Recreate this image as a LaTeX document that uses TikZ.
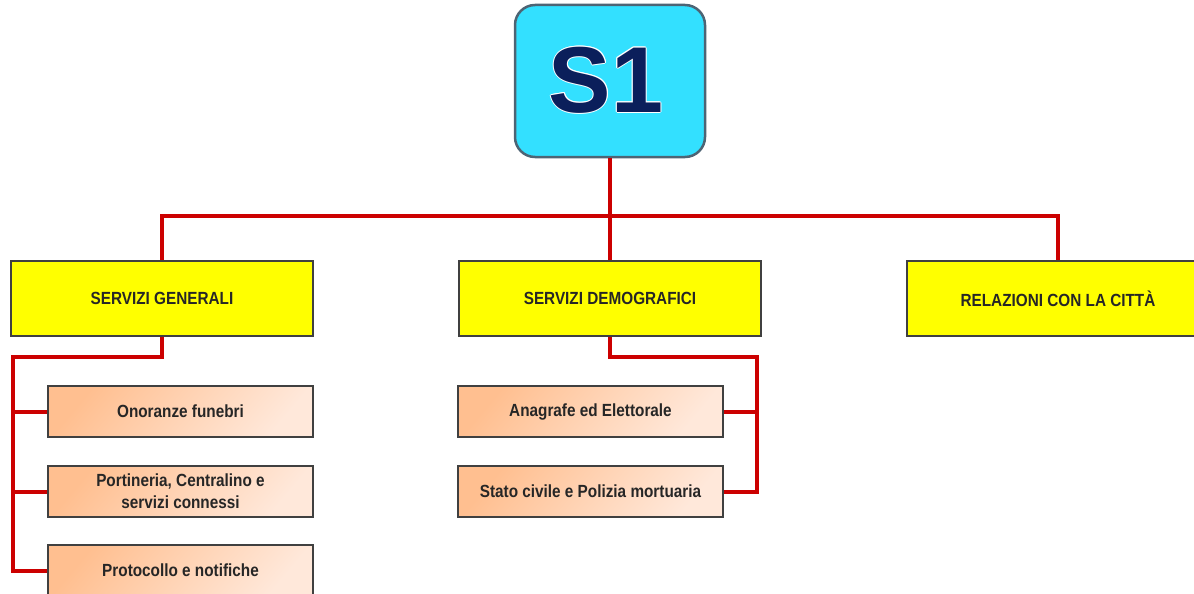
\documentclass[tikz,border=0pt]{standalone}
\usepackage{fontspec}
\newfontfamily\nf[FakeStretch=0.87]{Liberation Sans}
\newfontfamily\bigf{Liberation Sans}
\definecolor{linered}{HTML}{CC0000}
\definecolor{cyanfill}{HTML}{33E0FF}
\definecolor{cyanborder}{HTML}{4D6474}
\definecolor{navy}{HTML}{0B1F5B}
\definecolor{boxborder}{HTML}{404040}
\definecolor{txt}{HTML}{262626}
\definecolor{yfill}{HTML}{FFFF00}
\definecolor{orA}{HTML}{FFBF90}
\definecolor{orB}{HTML}{FFE8DA}
\tikzset{
  conn/.style={draw=linered, line width=4pt, line join=miter},
  ybox/.style={draw=boxborder, line width=1.5pt, fill=yfill, minimum width=302pt, minimum height=75pt, inner sep=0pt,
    font=\nf\fontsize{17.6}{21}\selectfont\bfseries, text=txt, align=center},
  obox/.style={draw=boxborder, line width=1.5pt, top color=orA, bottom color=orB, shading angle=50,
    minimum width=265pt, minimum height=51pt, inner sep=0pt,
    font=\nf\fontsize{17.6}{22}\selectfont\bfseries, text=txt, align=center},
  topbox/.style={draw=cyanborder, line width=2.5pt, fill=cyanfill, rounded corners=20pt,
    minimum width=190pt, minimum height=152pt, inner sep=0pt}
}
\begin{document}
\begin{tikzpicture}[x=1pt,y=-1pt]
\useasboundingbox (0,0) rectangle (1194,594);
\clip (0,0) rectangle (1194,594);
% top box
\node[topbox] (s1) at (610,81) {};
\foreach \dx/\dy in {0.9/0,-0.9/0,0/0.9,0/-0.9,0.65/0.65,-0.65/0.65,0.65/-0.65,-0.65/-0.65}
  \node[text=white, font=\bigf\fontsize{93.6}{100}\selectfont\bfseries, inner sep=0pt] at (606+\dx,80+\dy) {S1};
\node[text=navy, font=\bigf\fontsize{93.6}{100}\selectfont\bfseries, inner sep=0pt] (s1t) at (606,80) {S1};
% level 1
\node[ybox] (gen) at (162,298.5) {SERVIZI GENERALI};
\node[ybox] (dem) at (610,298.5) {SERVIZI DEMOGRAFICI};
\node[ybox] (rel) at (1058,298.5) {RELAZIONI CON LA CITT\`A};
% level 2 left
\node[obox] (onor) at (180.5,411.5) {Onoranze funebri};
\node[obox] (port) at (180.5,491.5) {Portineria, Centralino e\\servizi connessi};
\node[obox] (prot) at (180.5,570.5) {Protocollo e notifiche};
% level 2 middle
\node[obox] (anag) at (590.5,411.5) {Anagrafe ed Elettorale};
\node[obox] (stato) at (590.5,491.5) {Stato civile e Polizia mortuaria};
% connectors
\coordinate (bar) at (610,216);
\draw[conn] (s1.south) -- (bar);
\draw[conn] (gen.north) |- (bar) -| (rel.north);
\draw[conn] (bar) -- (dem.north);
\coordinate (gl) at (13,357);
\coordinate (glb) at (13,570.5);
\draw[conn] (gen.south) |- (gl) -- (glb) -- (prot.west);
\draw[conn] (gl |- onor.west) -- (onor.west);
\draw[conn] (gl |- port.west) -- (port.west);
\coordinate (dl) at (757,357);
\coordinate (dlb) at (757,491.5);
\draw[conn] (dem.south) |- (dl) -- (dlb) -- (stato.east);
\draw[conn] (dl |- anag.east) -- (anag.east);
\end{tikzpicture}
\end{document}
